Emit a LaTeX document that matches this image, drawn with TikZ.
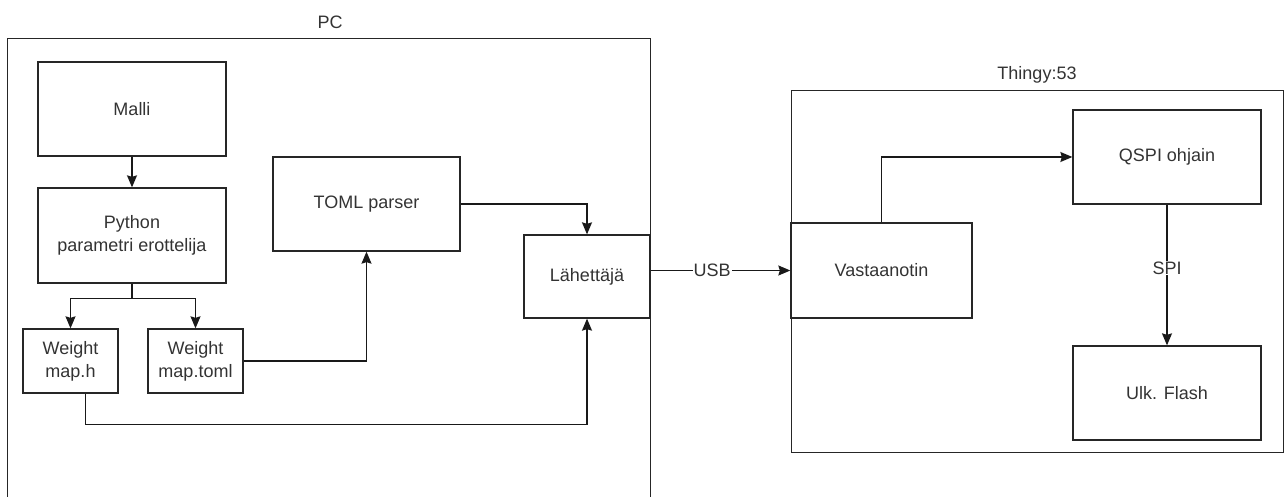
\documentclass[tikz,border=0pt]{standalone}
\usepackage{fontspec}
\setmainfont{Liberation Sans}
\usetikzlibrary{arrows.meta, positioning}
\tikzset{
  block/.style={rectangle, draw=black!85, line width=1.3pt, align=center, font=\fontsize{18}{23}\selectfont, text=black!80},
  group/.style={rectangle, draw=black!85, line width=1.3pt, anchor=north west},
  title/.style={font=\fontsize{18}{23}\selectfont, text=black!80},
  flow/.style={-{Stealth[length=12pt, width=10pt, inset=1.5pt]}, line width=1.3pt, draw=black!90},
  tag/.style={fill=white, inner sep=1pt, font=\fontsize{18}{23}\selectfont, text=black!80},
}

\begin{document}
\begin{tikzpicture}[x=1pt, y=-1pt]
  \useasboundingbox (0,0) rectangle (1285,497);

  % Containers
  \node[group, minimum width=643pt, minimum height=475pt] (pc) at (7,38) {};
  \node[title] (pclabel) at (330,22) {PC};
  \node[group, minimum width=492pt, minimum height=362pt] (thingy) at (791,90) {};
  \node[title] (thingylabel) at (1037,75) {Thingy:53};

  % PC side
  \node[block, minimum width=188pt, minimum height=94pt] (malli) at (132,109) {Malli};
  \node[block, minimum width=188pt, minimum height=95pt] (python) at (132,235.5) {Python\\parametri erottelija};
  \node[block, minimum width=95pt, minimum height=64pt] (wmaph) at (70.5,361) {Weight\\map.h};
  \node[block, minimum width=95pt, minimum height=64pt] (wmapt) at (195.5,361) {Weight\\map.toml};
  \node[block, minimum width=187pt, minimum height=94pt] (toml) at (366.5,204) {TOML parser};
  \node[block, minimum width=126pt, minimum height=83pt] (lahettaja) at (587,276.5) {Lähettäjä};

  % Thingy side
  \node[block, minimum width=181pt, minimum height=95pt] (vast) at (881.5,270.5) {Vastaanotin};
  \node[block, minimum width=188pt, minimum height=94pt] (qspi) at (1167,157) {QSPI ohjain};
  \node[block, minimum width=188pt, minimum height=94pt] (flash) at (1167,393) {Ulk. Flash};

  % Arcs
  \draw[flow] (malli) -- (python);
  \draw[flow] (python.south) -- ++(0,15) -| (wmaph.north);
  \draw[flow] (python.south) -- ++(0,15) -| (wmapt.north);
  \draw[flow] (wmapt.east) -| (toml.south);
  \draw[flow] (toml.east) -| (lahettaja.north);
  \draw[flow] ([xshift=15pt]wmaph.south) -- ++(0,31) -| (lahettaja.south);
  \draw[flow] (lahettaja.east |- vast.west) -- node[tag, pos=0.44] {USB} (vast.west);
  \draw[flow] (vast.north) |- (qspi.west);
  \draw[flow] (qspi) -- node[tag, pos=0.45] {SPI} (flash);
\end{tikzpicture}
\end{document}
